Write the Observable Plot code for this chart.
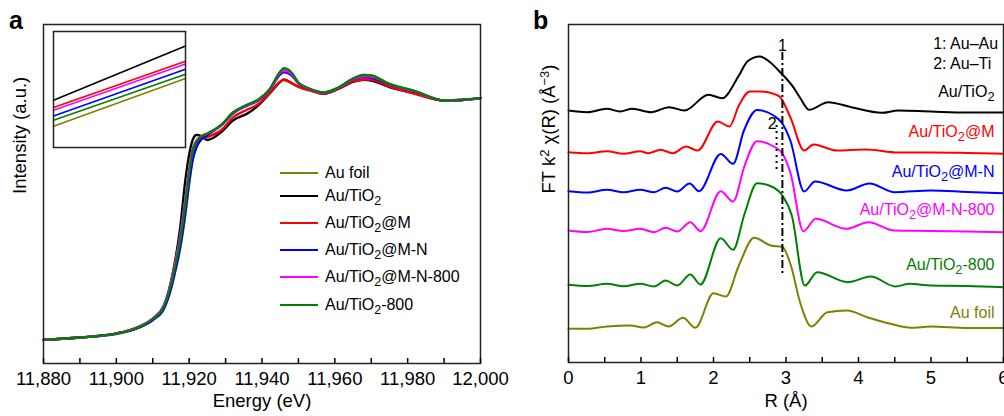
<!DOCTYPE html>
<html><head><meta charset="utf-8">
<script src="https://cdn.jsdelivr.net/npm/d3@7"></script>
<script src="https://cdn.jsdelivr.net/npm/@observablehq/plot@0.6"></script>
<style>
html,body{margin:0;padding:0;background:#fff;overflow:hidden;}
#wrap{position:relative;width:1004px;height:416px;overflow:hidden;font-family:"Liberation Sans",Arial,sans-serif;color:#000;}
.abs{position:absolute;}
.panel{position:absolute;font-weight:bold;font-size:25px;line-height:25px;}
.leg{position:absolute;left:280px;height:20px;display:flex;align-items:center;font-size:16px;white-space:nowrap;}
.leg .sw{width:38px;height:0;border-top:2.5px solid;margin-right:7px;}
sub{font-size:0.78em;vertical-align:-0.35em;line-height:0;}
</style></head><body><div id="wrap"></div>
<script>
// ---------- shared series info ----------
const seriesNames = ["Au foil", "Au/TiO₂", "Au/TiO₂@M", "Au/TiO₂@M-N", "Au/TiO₂@M-N-800", "Au/TiO₂-800"];
const seriesColors = ["#808000", "#000000", "#ff0000", "#0000ff", "#ff00ff", "#008000"];
const legendHTML = ["Au foil", "Au/TiO<sub>2</sub>", "Au/TiO<sub>2</sub>@M", "Au/TiO<sub>2</sub>@M-N", "Au/TiO<sub>2</sub>@M-N-800", "Au/TiO<sub>2</sub>-800"];

// ---------- panel a: XANES ----------
const energy = [11880, 11890, 11900, 11906, 11910, 11913, 11915, 11916, 11917.5, 11919, 11920, 11921, 11922, 11923, 11925, 11929, 11932, 11936, 11939, 11942, 11945, 11946, 11948, 11950, 11953, 11957, 11961, 11965, 11968, 11970, 11975, 11982, 11990, 11995, 12000];
const xanesAuFoil = [23.7, 26, 29.5, 35.5, 43.5, 54, 74, 89, 114, 150, 180, 205, 218, 224.5, 229.5, 239, 250.5, 258.5, 263.5, 273.5, 291, 294.5, 291, 280.5, 274.5, 271, 276, 285, 288.5, 288, 279.5, 272.5, 263, 263.7, 265.3];
const xanesTiO2 = [23.7, 26, 30, 36.5, 45, 57, 82, 100, 135, 185, 209, 224, 228.5, 228, 223.5, 232, 243, 250, 258, 269.5, 281.5, 284, 280.5, 277, 273.5, 269.7, 274.5, 281.5, 283.7, 283, 276.3, 270, 263, 263.5, 265.3];
const xanesM = [23.7, 26, 30, 36.3, 44.7, 57, 80, 97, 126, 165, 193, 214, 221, 224, 226.5, 234, 246, 254, 259.5, 270, 282, 283.5, 281, 276.5, 273, 270, 275, 282, 284, 284, 277, 269.5, 263, 263.5, 265.3];
const xanesMN = [23.7, 26, 30, 35.5, 43.5, 54.5, 75, 90, 116, 152, 181, 204, 216, 222.5, 228.5, 238.5, 250, 258, 263, 273, 289, 291.5, 288.5, 280, 274.5, 271, 275.5, 284, 286.5, 286, 279, 272, 263, 263.5, 265.3];
const xanesMN800 = [23.7, 26, 30, 36.5, 45, 58, 81, 98, 127, 166, 194, 215, 223, 226.5, 230, 239, 250.5, 258.5, 263.5, 273.5, 290.5, 293, 290, 280.5, 274.5, 271, 275.5, 284.5, 287.5, 287, 279.5, 272, 263, 263.5, 265.3];
const xanes800 = [23.7, 26, 30, 36, 44.5, 56.5, 79, 95, 123, 161, 190, 213, 222, 226.5, 230, 239.5, 251, 259, 264, 274, 292, 295.3, 291.5, 281, 275, 271.3, 276, 285, 288.7, 288, 279.7, 272.5, 263, 263.7, 265.3];
const xanesAll = [xanesAuFoil, xanesTiO2, xanesM, xanesMN, xanesMN800, xanes800];
const energyTicks = [11880, 11890, 11900, 11910, 11920, 11930, 11940, 11950, 11960, 11970, 11980, 11990, 12000];

// inset (magnified view, arbitrary units)
const insetEnergy = [11917.0, 11917.2];
const insetOrder = [0, 5, 3, 4, 2, 1]; // olive, green, blue, magenta, red, black
const insetAuFoil = [21.3, 69];
const insetTiO2 = [47.3, 101.6];
const insetM = [40, 86.3];
const insetMN = [31.6, 78.3];
const insetMN800 = [37.3, 83.6];
const inset800 = [27.3, 73.3];
const insetAll = [insetAuFoil, insetTiO2, insetM, insetMN, insetMN800, inset800];

// ---------- panel b: FT-EXAFS ----------
const rAuFoil = [0, 0.26, 0.53, 0.85, 1.04, 1.22, 1.38, 1.58, 1.75, 2.0, 2.17, 2.35, 2.56, 2.79, 2.95, 3.06, 3.2, 3.35, 3.57, 3.84, 4.12, 4.44, 4.72, 5.0, 5.5, 6.0];
const ftAuFoil = [33.7, 33.7, 36, 37, 35, 40.3, 36, 44.7, 34.7, 69.3, 66, 97, 124.7, 117, 115.5, 98.7, 58.7, 36, 50.3, 52, 45.3, 38.7, 34.7, 36, 34.5, 34.5];
const rTiO2 = [0, 0.26, 0.53, 0.71, 0.88, 1.14, 1.39, 1.6, 1.93, 2.12, 2.35, 2.47, 2.64, 2.75, 2.92, 3.1, 3.2, 3.32, 3.58, 3.9, 4.32, 4.55, 5.0, 5.5, 6.0];
const ftTiO2 = [252, 250.3, 253.7, 251, 253.7, 250.3, 255.3, 252, 267.7, 264.3, 287, 301.3, 306, 302, 290.3, 275.3, 264, 252.7, 260.3, 255.3, 249.7, 252, 251, 250, 250];
const rM = [0, 0.26, 0.53, 0.76, 0.99, 1.1, 1.27, 1.44, 1.62, 1.78, 2.06, 2.22, 2.35, 2.5, 2.65, 2.9, 3.06, 3.25, 3.38, 3.7, 4.1, 4.55, 5.0, 5.5, 6.0];
const ftM = [210.3, 209.3, 211.3, 208.7, 211.3, 209.3, 212.7, 209.3, 216, 212, 241, 236, 257, 271, 271, 266.5, 245.3, 212, 218, 212, 213, 210, 210, 209.5, 208.7];
const rMN = [0, 0.26, 0.53, 0.76, 0.99, 1.18, 1.34, 1.5, 1.67, 1.8, 2.1, 2.27, 2.42, 2.6, 2.83, 2.95, 3.06, 3.25, 3.4, 3.84, 4.15, 4.5, 5.0, 5.5, 6.0];
const ftMN = [171.3, 170, 172.7, 170.3, 172.7, 170.3, 174.7, 171, 179, 171.3, 208.5, 198.7, 232, 252.5, 247, 239, 222, 171, 181, 172, 179, 170.3, 172, 170.5, 169.3];
const rMN800 = [0, 0.26, 0.53, 0.76, 0.99, 1.18, 1.34, 1.5, 1.68, 1.82, 2.1, 2.27, 2.43, 2.6, 2.83, 2.95, 3.06, 3.24, 3.41, 3.83, 4.14, 4.49, 5.0, 5.5, 6.0];
const ftMN800 = [132, 130.5, 133.7, 131.5, 133.7, 130.3, 134.7, 131, 140.3, 131.3, 171.3, 161, 197, 221.3, 216, 209, 190, 131.3, 143.7, 133.7, 140.3, 132, 131.5, 131, 130.3];
const r800 = [0, 0.26, 0.53, 0.76, 0.99, 1.18, 1.34, 1.5, 1.68, 1.82, 2.1, 2.27, 2.43, 2.6, 2.83, 2.95, 3.08, 3.26, 3.43, 3.85, 4.17, 4.51, 4.7, 5.0, 5.5, 6.0];
const ft800 = [77.7, 76.5, 78.7, 76.3, 78.7, 76, 82, 77, 88, 78, 124.3, 112.7, 149, 179.3, 175, 167, 147, 77, 90.3, 80.3, 86, 76, 78.7, 77, 76.5, 75.3];
const rAll = [rAuFoil, rTiO2, rM, rMN, rMN800, r800];
const ftAll = [ftAuFoil, ftTiO2, ftM, ftMN, ftMN800, ft800];
const rTicks = [0, 0.5, 1, 1.5, 2, 2.5, 3, 3.5, 4, 4.5, 5, 5.5, 6];
// series label heights (same units as curves)
const ftLabelY = [50, 271, 231, 191, 153, 98];
// reference lines: 1 = Au–Au, 2 = Au–Ti
const refR = [2.95, 2.87];
const refTop = [310, 237];
const refBottom = [89, 192];
const refLabel = ["1", "2"];
const refLabelR = [2.95, 2.81];
const refLabelY = [317, 239];
const noteText = ["1: Au–Au", "2: Au–Ti"];
const noteY = [319, 299];
const noteR = 5.03;

// ---------- helpers ----------
const FONT = "'Liberation Sans', Arial, sans-serif";
function richText(svg) {
  svg.querySelectorAll("text").forEach(t => {
    const s = t.textContent;
    if (!/[₂²⁻³]/.test(s)) return;
    const parts = s.match(/₂+|[²⁻³]+|[^₂²⁻³]+/g);
    while (t.firstChild) t.removeChild(t.firstChild);
    for (const p of parts) {
      const ts = document.createElementNS("http://www.w3.org/2000/svg", "tspan");
      if (p[0] === "₂") {
        ts.textContent = p.replace(/₂/g, "2");
        ts.setAttribute("baseline-shift", "-0.3em");
        ts.setAttribute("font-size", "0.8em");
      } else if (/[²⁻³]/.test(p[0])) {
        ts.textContent = p.replace(/²/g, "2").replace(/⁻/g, "−").replace(/³/g, "3");
        ts.setAttribute("baseline-shift", "0.45em");
        ts.setAttribute("font-size", "0.7em");
      } else {
        ts.textContent = p;
      }
      t.appendChild(ts);
    }
  });
}

const wrap = document.getElementById("wrap");
function place(node, left, top) {
  const d = document.createElement("div");
  d.className = "abs";
  d.style.left = left + "px";
  d.style.top = top + "px";
  d.appendChild(node);
  wrap.appendChild(d);
  return d;
}

// ---------- panel a ----------
const xanesRows = xanesAll.flatMap((vals, s) => vals.map((v, i) => ({series: seriesNames[s], E: energy[i], mu: v})));
const plotA = Plot.plot({
  width: 520, height: 416,
  marginLeft: 43, marginRight: 40, marginTop: 24, marginBottom: 53,
  style: {fontFamily: FONT, fontSize: "18.5px", background: "transparent", overflow: "visible", color: "#000"},
  x: {domain: [11880, 12000]},
  y: {domain: [0, 339], axis: null},
  color: {domain: seriesNames, range: seriesColors},
  marks: [
    Plot.line(xanesRows, {x: "E", y: "mu", z: "series", stroke: "series", strokeWidth: 2.3, curve: "monotone-x"}),
    Plot.frame({stroke: "#222", strokeWidth: 1.5}),
    Plot.axisX({ticks: energyTicks, tickSize: -5, tickPadding: 13, strokeWidth: 1.5, label: null, fontSize: 18.5,
      tickFormat: d => d % 20 === 0 ? d3.format(",")(d) : ""}),
    Plot.text(["Energy (eV)"], {text: d => d, frameAnchor: "bottom", dy: 43, fontSize: 18.5}),
    Plot.text(["Intensity (a.u.)"], {text: d => d, frameAnchor: "left", rotate: -90, dx: -23, fontSize: 18.5})
  ]
});
place(plotA, 0, 0);

// inset
const insetRows = insetOrder.flatMap(s => insetAll[s].map((v, i) => ({series: seriesNames[s], E: insetEnergy[i], mu: v})));
const plotInset = Plot.plot({
  width: 134, height: 118, margin: 1,
  style: {background: "#fff", overflow: "visible"},
  x: {domain: insetEnergy, axis: null},
  y: {domain: [0, 116], axis: null},
  color: {domain: seriesNames, range: seriesColors},
  marks: [
    Plot.line(insetRows, {x: "E", y: "mu", z: "series", stroke: "series", strokeWidth: 1.6}),
    Plot.frame({stroke: "#222", strokeWidth: 1.5})
  ]
});
place(plotInset, 52, 30);

// legend
const legendCenters = [173, 195.5, 223, 249.5, 276.5, 305];
seriesNames.forEach((n, i) => {
  const row = document.createElement("div");
  row.className = "leg";
  row.style.top = (legendCenters[i] - 10) + "px";
  row.innerHTML = `<span class="sw" style="border-color:${seriesColors[i]}"></span><span>${legendHTML[i]}</span>`;
  wrap.appendChild(row);
});

// ---------- panel b ----------
const ftRows = ftAll.flatMap((vals, s) => vals.map((v, i) => ({series: seriesNames[s], R: rAll[s][i], ft: v})));
const labelRows = seriesNames.map((n, i) => ({series: n, y: ftLabelY[i]}));
const refRows = refR.map((r, i) => ({R: r, y1: refTop[i], y2: refBottom[i]}));
const plotB = Plot.plot({
  width: 504, height: 416,
  marginLeft: 68, marginRight: 1, marginTop: 24, marginBottom: 54,
  style: {fontFamily: FONT, fontSize: "18.5px", background: "transparent", overflow: "visible", color: "#000"},
  x: {domain: [0, 6]},
  y: {domain: [0, 338], axis: null},
  color: {domain: seriesNames, range: seriesColors},
  marks: [
    Plot.line(ftRows, {x: "R", y: "ft", z: "series", stroke: "series", strokeWidth: 2, curve: "monotone-x"}),
    Plot.ruleX(refRows.slice(0, 1), {x: "R", y1: "y1", y2: "y2", stroke: "#000", strokeWidth: 2, strokeDasharray: "8,3,2,3"}),
    Plot.ruleX(refRows.slice(1), {x: "R", y1: "y1", y2: "y2", stroke: "#000", strokeWidth: 2, strokeDasharray: "2,4"}),
    Plot.text(refLabel, {x: (d, i) => refLabelR[i], y: (d, i) => refLabelY[i], text: d => d, fontSize: 16}),
    Plot.text(noteText, {x: noteR, y: (d, i) => noteY[i], text: d => d, textAnchor: "start", fontSize: 16}),
    Plot.text(labelRows, {y: "y", text: "series", fill: "series", frameAnchor: "right", textAnchor: "end", dx: -9, fontSize: 16}),
    Plot.frame({stroke: "#222", strokeWidth: 1.5}),
    Plot.axisX({ticks: rTicks, tickSize: -5, tickPadding: 13, strokeWidth: 1.5, label: null, fontSize: 18.5,
      tickFormat: d => Number.isInteger(d) ? String(d) : ""}),
    Plot.text(["R (Å)"], {text: d => d, frameAnchor: "bottom", dy: 44, fontSize: 18.5}),
    Plot.text(["FT k² χ(R) (Å⁻³)"], {text: d => d, frameAnchor: "left", rotate: -90, dx: -19, fontSize: 18.5})
  ]
});
richText(plotB);
place(plotB, 500, 0);

// panel letters
const la = document.createElement("div"); la.className = "panel"; la.textContent = "a"; la.style.left = "9px"; la.style.top = "8px"; wrap.appendChild(la);
const lb = document.createElement("div"); lb.className = "panel"; lb.textContent = "b"; lb.style.left = "533px"; lb.style.top = "8px"; wrap.appendChild(lb);
</script></body></html>
